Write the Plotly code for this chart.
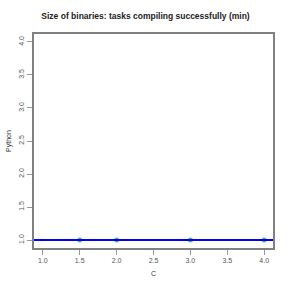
import plotly.graph_objects as go

c_vals = [1.5, 2.0, 3.0, 4.0]
python_vals = [1.0, 1.0, 1.0, 1.0]
ref_line = 1.0
tick_vals = [1.0, 1.5, 2.0, 2.5, 3.0, 3.5, 4.0]
tick_text = ["1.0", "1.5", "2.0", "2.5", "3.0", "3.5", "4.0"]

fig = go.Figure()
fig.add_trace(go.Scatter(x=c_vals, y=python_vals, mode="markers",
                         marker=dict(color="#5cb870", size=5, line=dict(width=0)),
                         showlegend=False, cliponaxis=False))
fig.add_shape(type="line", xref="paper", x0=0, x1=1, yref="y", y0=ref_line, y1=ref_line,
              line=dict(color="#0000ff", width=2))

axis_common = dict(showgrid=False, zeroline=False, showline=True, mirror=True,
                   linecolor="#808080", linewidth=1.5, ticks="outside", ticklen=5,
                   tickcolor="#999999", tickwidth=1, automargin=False,
                   tickfont=dict(family="Liberation Sans, Arial", size=7, color="#555555"),
                   tickvals=tick_vals, ticktext=tick_text)

fig.update_layout(
    width=291, height=291,
    margin=dict(l=34, r=18, t=34, b=43),
    paper_bgcolor="white", plot_bgcolor="white",
    title=dict(text="<b>Size of binaries: tasks compiling successfully (min)</b>",
               x=0.5, xanchor="center", y=1 - 16/291, yanchor="middle",
               font=dict(family="Liberation Sans, Arial", size=8.5, color="#222222")),
    xaxis=dict(range=[0.88, 4.12], title=dict(text="C", standoff=8,
               font=dict(family="Liberation Sans, Arial", size=7, color="#333333")),
               **axis_common),
    yaxis=dict(range=[0.88, 4.12], tickangle=-90, title=dict(text="Python", standoff=6,
               font=dict(family="Liberation Sans, Arial", size=7, color="#333333")),
               **axis_common),
)

fig.write_html("out.html", config={"displayModeBar": False},
               post_script="document.body.style.margin='0';document.body.style.padding='0';")
